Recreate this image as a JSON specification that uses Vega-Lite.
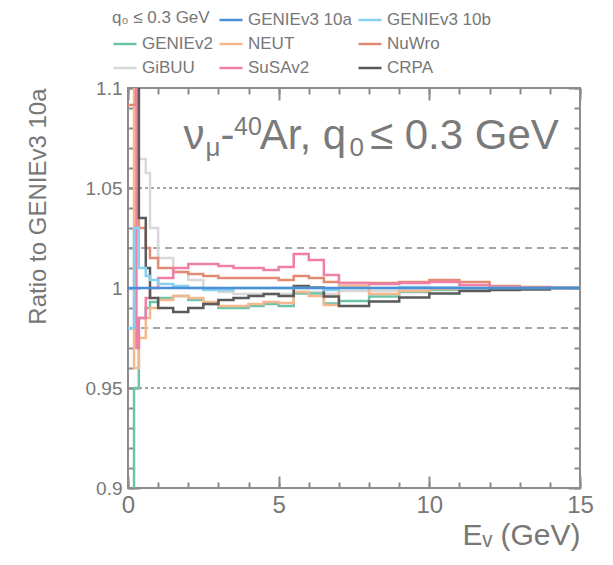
{
  "$schema": "https://vega.github.io/schema/vega-lite/v6.json",
  "width": 452,
  "height": 400,
  "autosize": {"type": "none"},
  "padding": {"left": 128, "top": 88, "right": 33, "bottom": 77},
  "background": "white",
  "config": {
    "view": {"stroke": "#8c8c8c", "strokeWidth": 2},
    "font": "Liberation Sans"
  },
  "data": {
    "values": [
      {"E": 0, "GENIEv3 10a": 1, "GENIEv3 10b": 0.98, "GENIEv2": 0.8, "NEUT": 1.2, "NuWro": 1.0915, "GiBUU": 1.2, "SuSAv2": 1.3, "CRPA": 1.12},
      {"E": 0.2, "GENIEv3 10a": 1, "GENIEv3 10b": 1.03, "GENIEv2": 0.95, "NEUT": 0.96, "NuWro": 1.0915, "GiBUU": 1.2, "SuSAv2": 1.3, "CRPA": 1.2},
      {"E": 0.26, "GENIEv3 10a": 1, "GENIEv3 10b": 1.03, "GENIEv2": 0.95, "NEUT": 0.96, "NuWro": 1.15, "GiBUU": 1.15, "SuSAv2": 1.3, "CRPA": 1.2},
      {"E": 0.28, "GENIEv3 10a": 1, "GENIEv3 10b": 1.03, "GENIEv2": 0.95, "NEUT": 0.96, "NuWro": 1.15, "GiBUU": 1.15, "SuSAv2": 0.97, "CRPA": 1.2},
      {"E": 0.36, "GENIEv3 10a": 1, "GENIEv3 10b": 1.01, "GENIEv2": 0.985, "NEUT": 0.975, "NuWro": 1.03, "GiBUU": 1.0645, "SuSAv2": 0.985, "CRPA": 1.035},
      {"E": 0.59, "GENIEv3 10a": 1, "GENIEv3 10b": 1.006, "GENIEv2": 0.99, "NEUT": 0.985, "NuWro": 1.02, "GiBUU": 1.0575, "SuSAv2": 0.995, "CRPA": 1.01},
      {"E": 0.73, "GENIEv3 10a": 1, "GENIEv3 10b": 1.004, "GENIEv2": 0.993, "NEUT": 0.99, "NuWro": 1.015, "GiBUU": 1.03, "SuSAv2": 1.0, "CRPA": 0.995},
      {"E": 1.0, "GENIEv3 10a": 1, "GENIEv3 10b": 1.002, "GENIEv2": 0.995, "NEUT": 0.994, "NuWro": 1.01, "GiBUU": 1.015, "SuSAv2": 1.005, "CRPA": 0.99},
      {"E": 1.5, "GENIEv3 10a": 1, "GENIEv3 10b": 1.001, "GENIEv2": 0.996, "NEUT": 0.996, "NuWro": 1.008, "GiBUU": 1.008, "SuSAv2": 1.01, "CRPA": 0.988},
      {"E": 2.0, "GENIEv3 10a": 1, "GENIEv3 10b": 1.0, "GENIEv2": 0.994, "NEUT": 0.995, "NuWro": 1.007, "GiBUU": 1.004, "SuSAv2": 1.012, "CRPA": 0.99},
      {"E": 2.5, "GENIEv3 10a": 1, "GENIEv3 10b": 0.999, "GENIEv2": 0.992, "NEUT": 0.993, "NuWro": 1.006, "GiBUU": 1.0, "SuSAv2": 1.012, "CRPA": 0.992},
      {"E": 3.0, "GENIEv3 10a": 1, "GENIEv3 10b": 0.999, "GENIEv2": 0.99, "NEUT": 0.991, "NuWro": 1.005, "GiBUU": 0.998, "SuSAv2": 1.011, "CRPA": 0.994},
      {"E": 3.5, "GENIEv3 10a": 1, "GENIEv3 10b": 1.0, "GENIEv2": 0.99, "NEUT": 0.991, "NuWro": 1.005, "GiBUU": 0.997, "SuSAv2": 1.01, "CRPA": 0.995},
      {"E": 4.0, "GENIEv3 10a": 1, "GENIEv3 10b": 1.0, "GENIEv2": 0.991, "NEUT": 0.992, "NuWro": 1.005, "GiBUU": 0.997, "SuSAv2": 1.01, "CRPA": 0.996},
      {"E": 4.5, "GENIEv3 10a": 1, "GENIEv3 10b": 1.0, "GENIEv2": 0.992, "NEUT": 0.993, "NuWro": 1.005, "GiBUU": 0.997, "SuSAv2": 1.009, "CRPA": 0.997},
      {"E": 5.0, "GENIEv3 10a": 1, "GENIEv3 10b": 1.0, "GENIEv2": 0.991, "NEUT": 0.9925, "NuWro": 1.004, "GiBUU": 0.997, "SuSAv2": 1.0105, "CRPA": 0.996},
      {"E": 5.5, "GENIEv3 10a": 1, "GENIEv3 10b": 1.0, "GENIEv2": 0.9973, "NEUT": 0.998, "NuWro": 1.006, "GiBUU": 0.998, "SuSAv2": 1.017, "CRPA": 1.001},
      {"E": 6.0, "GENIEv3 10a": 1, "GENIEv3 10b": 1.0, "GENIEv2": 0.9973, "NEUT": 0.996, "NuWro": 1.005, "GiBUU": 0.998, "SuSAv2": 1.014, "CRPA": 1.0003},
      {"E": 6.5, "GENIEv3 10a": 1, "GENIEv3 10b": 0.999, "GENIEv2": 0.9923, "NEUT": 0.9915, "NuWro": 1.003, "GiBUU": 0.997, "SuSAv2": 1.0065, "CRPA": 0.9957},
      {"E": 7, "GENIEv3 10a": 1, "GENIEv3 10b": 1.0, "GENIEv2": 0.9935, "NEUT": 1.001, "NuWro": 1.0025, "GiBUU": 0.9985, "SuSAv2": 1.0025, "CRPA": 0.991},
      {"E": 8, "GENIEv3 10a": 1, "GENIEv3 10b": 1.0, "GENIEv2": 0.9957, "NEUT": 0.997, "NuWro": 1.0025, "GiBUU": 0.9985, "SuSAv2": 1.002, "CRPA": 0.9932},
      {"E": 9, "GENIEv3 10a": 1, "GENIEv3 10b": 1.0005, "GENIEv2": 0.998, "NEUT": 0.9985, "NuWro": 1.003, "GiBUU": 0.999, "SuSAv2": 1.0025, "CRPA": 0.9953},
      {"E": 10, "GENIEv3 10a": 1, "GENIEv3 10b": 1.0003, "GENIEv2": 0.999, "NEUT": 0.9995, "NuWro": 1.004, "GiBUU": 0.9995, "SuSAv2": 1.003, "CRPA": 0.9973},
      {"E": 11, "GENIEv3 10a": 1, "GENIEv3 10b": 1.0, "GENIEv2": 0.9995, "NEUT": 1.0, "NuWro": 1.003, "GiBUU": 0.9998, "SuSAv2": 1.0015, "CRPA": 0.9985},
      {"E": 12, "GENIEv3 10a": 1, "GENIEv3 10b": 1.0, "GENIEv2": 0.9998, "NEUT": 1.0, "NuWro": 1.001, "GiBUU": 1.0, "SuSAv2": 1.0005, "CRPA": 0.999},
      {"E": 13, "GENIEv3 10a": 1, "GENIEv3 10b": 1.0, "GENIEv2": 1.0, "NEUT": 1.0, "NuWro": 1.0005, "GiBUU": 1.0, "SuSAv2": 1.0, "CRPA": 0.9993},
      {"E": 14, "GENIEv3 10a": 1, "GENIEv3 10b": 1.0, "GENIEv2": 1.0, "NEUT": 1.0, "NuWro": 1.0, "GiBUU": 1.0, "SuSAv2": 1.0, "CRPA": 1.0},
      {"E": 15, "GENIEv3 10a": 1, "GENIEv3 10b": 1.0, "GENIEv2": 1.0, "NEUT": 1.0, "NuWro": 1.0, "GiBUU": 1.0, "SuSAv2": 1.0, "CRPA": 1.0}
    ]
  },
  "transform": [
    {"fold": ["GiBUU", "GENIEv2", "NEUT", "NuWro", "SuSAv2", "CRPA", "GENIEv3 10b", "GENIEv3 10a"], "as": ["model", "ratio"]}
  ],
  "resolve": {"axis": {"x": "independent", "y": "independent"}},
  "layer": [
    {
      "data": {"values": [{"level": 1.02}, {"level": 0.98}]},
      "transform": [],
      "mark": {"type": "rule", "stroke": "#8c8c8c", "strokeWidth": 1.5, "strokeDash": [7, 5]},
      "encoding": {"y": {"field": "level", "type": "quantitative", "axis": null, "scale": {"domain": [0.9, 1.1], "nice": false, "zero": false}}}
    },
    {
      "data": {"values": [{"level": 1.05}, {"level": 0.95}]},
      "transform": [],
      "mark": {"type": "rule", "stroke": "#8c8c8c", "strokeWidth": 1.5, "strokeDash": [3, 3]},
      "encoding": {"y": {"field": "level", "type": "quantitative", "axis": null, "scale": {"domain": [0.9, 1.1], "nice": false, "zero": false}}}
    },
    {
      "mark": {"type": "line", "interpolate": "step-after", "strokeWidth": 2.5, "clip": true},
      "encoding": {
        "x": {
          "field": "E", "type": "quantitative",
          "scale": {"domain": [0, 15], "nice": false, "zero": false},
          "axis": {
            "orient": "bottom", "values": [0, 5, 10, 15], "format": "~g",
            "ticks": false, "domain": false, "grid": false,
            "labelFontSize": 24, "labelColor": "#777", "labelPadding": 5, "labelFlush": false,
            "title": "Eᵥ (GeV)", "titleAnchor": "end", "titleFontSize": 30,
            "titleFontWeight": "normal", "titleColor": "#777", "titlePadding": 3
          }
        },
        "y": {
          "field": "ratio", "type": "quantitative",
          "scale": {"domain": [0.9, 1.1], "nice": false, "zero": false},
          "axis": {
            "orient": "left", "values": [0.9, 0.95, 1, 1.05, 1.1], "format": "~g",
            "ticks": false, "domain": false, "grid": false,
            "labelFontSize": 19, "labelColor": "#777", "labelPadding": 6, "labelFlush": false,
            "title": "Ratio to GENIEv3 10a", "titleFontSize": 24, "titleFontWeight": "normal",
            "titleColor": "#777", "titleX": -78, "titleY": 0, "titleAngle": -90,
            "titleAlign": "right", "titleBaseline": "bottom"
          }
        },
        "color": {
          "field": "model", "type": "nominal",
          "scale": {
            "domain": ["q₀ ≤ 0.3 GeV", "GENIEv3 10a", "GENIEv3 10b", "GENIEv2", "NEUT", "NuWro", "GiBUU", "SuSAv2", "CRPA"],
            "range": ["rgba(0,0,0,0)", "#4b8fd6", "#88d0f0", "#6cc4a8", "#f5b88e", "#e38a74", "#d8d8d8", "#ef7fa6", "#5a5a5a"]
          },
          "legend": {
            "orient": "none", "legendX": -16, "legendY": -81,
            "direction": "horizontal", "columns": 3, "title": null,
            "symbolType": "stroke", "symbolSize": 529, "symbolStrokeWidth": 2.5,
            "labelFontSize": 17, "labelColor": "#777", "labelFont": "Liberation Sans",
            "columnPadding": 1, "rowPadding": 3, "labelOffset": 4,
            "labelExpr": "datum.value === 'q₀ ≤ 0.3 GeV' ? '' : datum.label"
          }
        }
      }
    },
    {
      "mark": {"type": "point", "opacity": 0, "clip": true},
      "encoding": {
        "x": {"field": "E", "type": "quantitative", "scale": {"domain": [0, 15], "nice": false, "zero": false},
          "axis": {"orient": "bottom", "values": [0, 5, 10, 15], "labels": false, "domain": false, "grid": false, "tickSize": -12, "tickWidth": 2, "tickColor": "#8c8c8c", "title": null}},
        "y": {"field": "ratio", "type": "quantitative", "scale": {"domain": [0.9, 1.1], "nice": false, "zero": false},
          "axis": {"orient": "left", "values": [0.9, 0.95, 1, 1.05, 1.1], "labels": false, "domain": false, "grid": false, "tickSize": -12, "tickWidth": 2, "tickColor": "#8c8c8c", "title": null}}
      }
    },
    {
      "mark": {"type": "point", "opacity": 0, "clip": true},
      "encoding": {
        "x": {"field": "E", "type": "quantitative", "scale": {"domain": [0, 15], "nice": false, "zero": false},
          "axis": {"orient": "bottom", "values": [0, 1, 2, 3, 4, 5, 6, 7, 8, 9, 10, 11, 12, 13, 14, 15], "labels": false, "domain": false, "grid": false, "tickSize": -6, "tickWidth": 2, "tickColor": "#8c8c8c", "title": null}},
        "y": {"field": "ratio", "type": "quantitative", "scale": {"domain": [0.9, 1.1], "nice": false, "zero": false},
          "axis": {"orient": "left", "values": [0.9, 0.91, 0.92, 0.93, 0.94, 0.95, 0.96, 0.97, 0.98, 0.99, 1, 1.01, 1.02, 1.03, 1.04, 1.05, 1.06, 1.07, 1.08, 1.09, 1.1], "labels": false, "domain": false, "grid": false, "tickSize": -6, "tickWidth": 2, "tickColor": "#8c8c8c", "title": null}}
      }
    },
    {
      "mark": {"type": "point", "opacity": 0, "clip": true},
      "encoding": {
        "x": {"field": "E", "type": "quantitative", "scale": {"domain": [0, 15], "nice": false, "zero": false},
          "axis": {"orient": "top", "values": [0, 5, 10, 15], "labels": false, "domain": false, "grid": false, "tickSize": -12, "tickWidth": 2, "tickColor": "#8c8c8c", "title": null}},
        "y": {"field": "ratio", "type": "quantitative", "scale": {"domain": [0.9, 1.1], "nice": false, "zero": false},
          "axis": {"orient": "right", "values": [0.9, 0.95, 1, 1.05, 1.1], "labels": false, "domain": false, "grid": false, "tickSize": -12, "tickWidth": 2, "tickColor": "#8c8c8c", "title": null}}
      }
    },
    {
      "mark": {"type": "point", "opacity": 0, "clip": true},
      "encoding": {
        "x": {"field": "E", "type": "quantitative", "scale": {"domain": [0, 15], "nice": false, "zero": false},
          "axis": {"orient": "top", "values": [0, 1, 2, 3, 4, 5, 6, 7, 8, 9, 10, 11, 12, 13, 14, 15], "labels": false, "domain": false, "grid": false, "tickSize": -6, "tickWidth": 2, "tickColor": "#8c8c8c", "title": null}},
        "y": {"field": "ratio", "type": "quantitative", "scale": {"domain": [0.9, 1.1], "nice": false, "zero": false},
          "axis": {"orient": "right", "values": [0.9, 0.91, 0.92, 0.93, 0.94, 0.95, 0.96, 0.97, 0.98, 0.99, 1, 1.01, 1.02, 1.03, 1.04, 1.05, 1.06, 1.07, 1.08, 1.09, 1.1], "labels": false, "domain": false, "grid": false, "tickSize": -6, "tickWidth": 2, "tickColor": "#8c8c8c", "title": null}}
      }
    },
    {
      "data": {"values": [{}]},
      "transform": [],
      "mark": {"type": "text", "text": "q₀ ≤ 0.3 GeV", "fontSize": 17, "align": "left", "baseline": "middle", "color": "#777"},
      "encoding": {"x": {"datum": -0.531, "type": "quantitative", "axis": null}, "y": {"datum": 1.135, "type": "quantitative", "axis": null}}
    },
    {
      "data": {"values": [{}]},
      "transform": [],
      "mark": {"type": "text", "text": "ν", "fontSize": 42, "align": "left", "baseline": "alphabetic", "color": "#7a7a7a"},
      "encoding": {"x": {"datum": 1.84, "type": "quantitative", "axis": null}, "y": {"datum": 1.0695, "type": "quantitative", "axis": null}}
    },
    {
      "data": {"values": [{}]},
      "transform": [],
      "mark": {"type": "text", "text": "μ", "fontSize": 26, "align": "left", "baseline": "alphabetic", "color": "#7a7a7a"},
      "encoding": {"x": {"datum": 2.575, "type": "quantitative", "axis": null}, "y": {"datum": 1.066, "type": "quantitative", "axis": null}}
    },
    {
      "data": {"values": [{}]},
      "transform": [],
      "mark": {"type": "text", "text": "-", "fontSize": 42, "align": "left", "baseline": "alphabetic", "color": "#7a7a7a"},
      "encoding": {"x": {"datum": 3.07, "type": "quantitative", "axis": null}, "y": {"datum": 1.0695, "type": "quantitative", "axis": null}}
    },
    {
      "data": {"values": [{}]},
      "transform": [],
      "mark": {"type": "text", "text": "40", "fontSize": 25, "align": "left", "baseline": "alphabetic", "color": "#7a7a7a"},
      "encoding": {"x": {"datum": 3.52, "type": "quantitative", "axis": null}, "y": {"datum": 1.0765, "type": "quantitative", "axis": null}}
    },
    {
      "data": {"values": [{}]},
      "transform": [],
      "mark": {"type": "text", "text": "Ar, q", "fontSize": 42, "align": "left", "baseline": "alphabetic", "color": "#7a7a7a"},
      "encoding": {"x": {"datum": 4.374, "type": "quantitative", "axis": null}, "y": {"datum": 1.0695, "type": "quantitative", "axis": null}}
    },
    {
      "data": {"values": [{}]},
      "transform": [],
      "mark": {"type": "text", "text": "0", "fontSize": 26, "align": "left", "baseline": "alphabetic", "color": "#7a7a7a"},
      "encoding": {"x": {"datum": 7.35, "type": "quantitative", "axis": null}, "y": {"datum": 1.066, "type": "quantitative", "axis": null}}
    },
    {
      "data": {"values": [{}]},
      "transform": [],
      "mark": {"type": "text", "text": "≤ 0.3 GeV", "fontSize": 42, "align": "left", "baseline": "alphabetic", "color": "#7a7a7a"},
      "encoding": {"x": {"datum": 8.03, "type": "quantitative", "axis": null}, "y": {"datum": 1.0695, "type": "quantitative", "axis": null}}
    }
  ]
}
